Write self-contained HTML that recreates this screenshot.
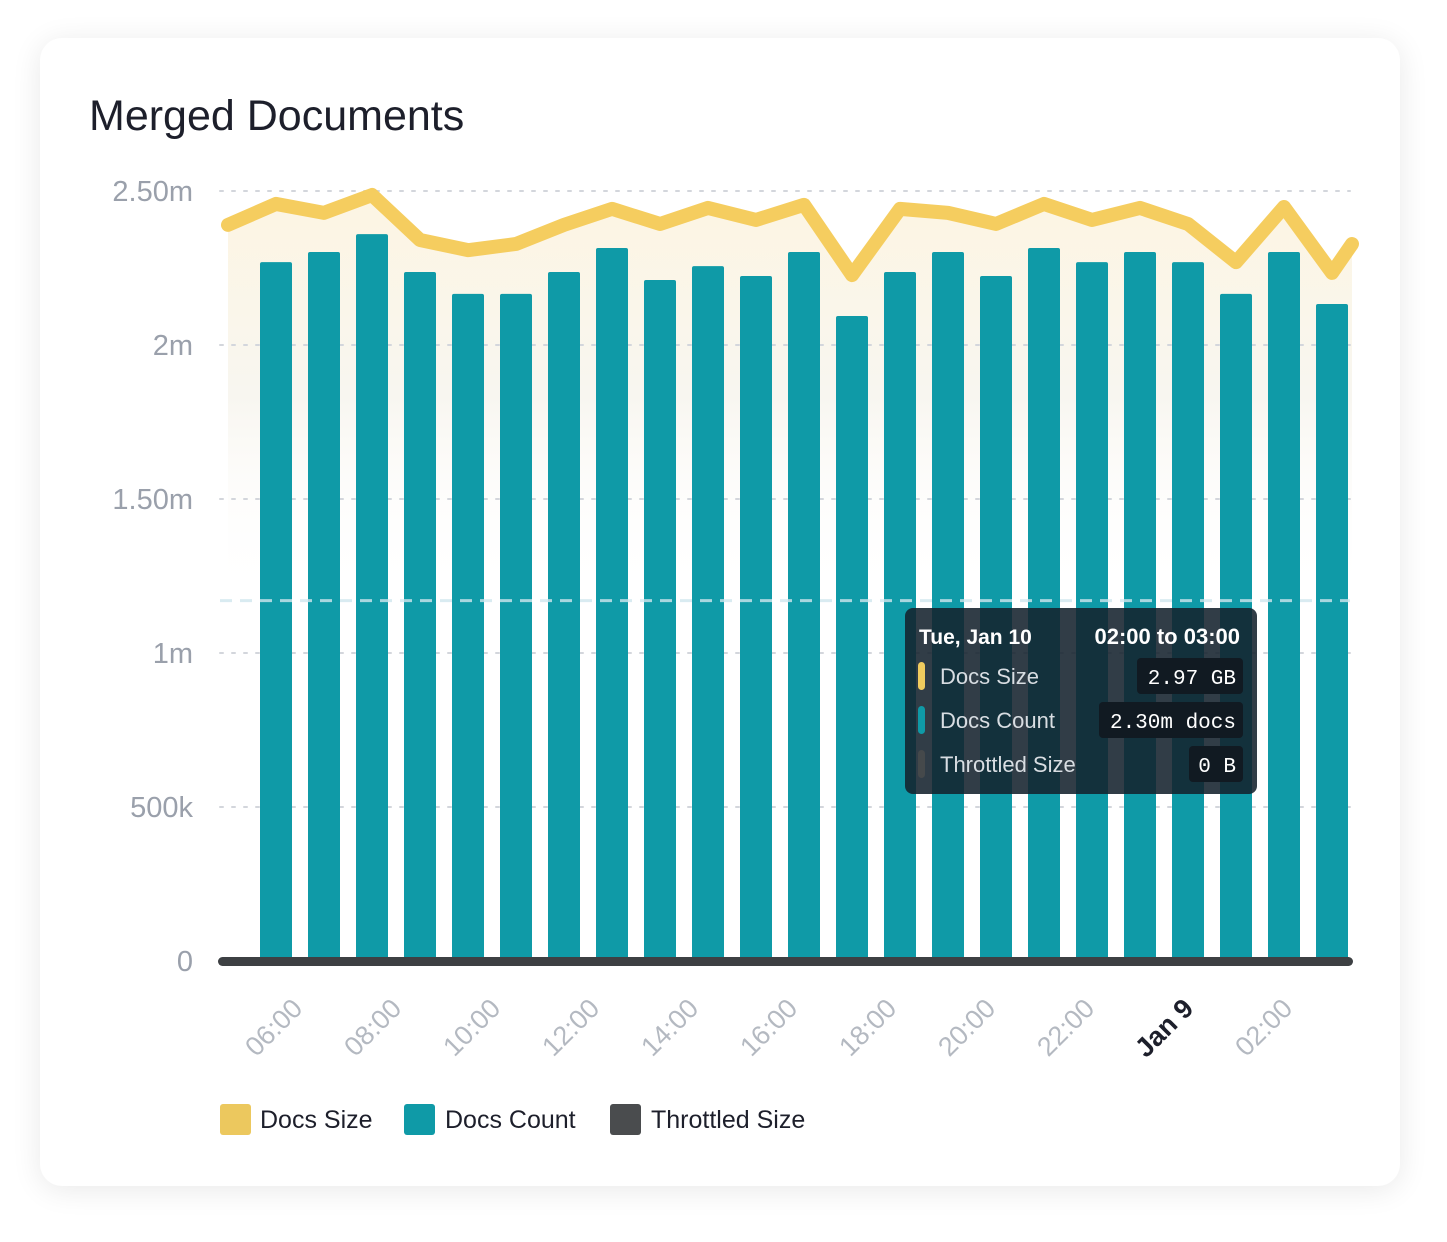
<!DOCTYPE html>
<html><head><meta charset="utf-8"><style>
body{margin:0;background:#fff;width:1447px;height:1242px;overflow:hidden;font-family:"Liberation Sans",sans-serif}
.card{position:absolute;left:40px;top:38px;width:1360px;height:1148px;background:#fff;border-radius:22px;box-shadow:0 4px 30px rgba(0,0,0,0.09)}
</style></head><body>
<div class="card"></div>
<svg width="1447" height="1242" style="position:absolute;left:0;top:0">
<defs>
<linearGradient id="fillg" gradientUnits="userSpaceOnUse" x1="0" y1="190" x2="0" y2="600">
<stop offset="0" stop-color="#fdf5e2"/><stop offset="0.5" stop-color="#f8f6f0"/><stop offset="1" stop-color="#ffffff" stop-opacity="0"/>
</linearGradient>
<clipPath id="plotclip"><rect x="220" y="150" width="1140" height="820"/></clipPath>
</defs>
<text x="89" y="130" font-size="43" fill="#1d1f2b">Merged Documents</text>
<g id="area" clip-path="url(#plotclip)"></g>
<g id="grid"></g>
<g id="bars"></g>
<g id="thresh"></g>
<g id="line" clip-path="url(#plotclip)"></g>
<rect x="218" y="957" width="1135" height="9" rx="4.5" fill="#3d4043"/>
<g id="xlabels"></g>
<g>
<rect x="905" y="608" width="352" height="186" rx="8" fill="#14222d" fill-opacity="0.88"/>
<text x="919" y="644" font-size="21" font-weight="bold" fill="#fff">Tue, Jan 10</text>
<text x="1240" y="644" font-size="22" font-weight="bold" fill="#fff" text-anchor="end">02:00 to 03:00</text>
<rect x="918" y="662" width="7" height="28" rx="3.5" fill="#f0cc5e"/>
<text x="940" y="684" font-size="22" fill="#d8dde2">Docs Size</text>
<rect x="1137" y="658" width="106" height="36" rx="4" fill="#111a22"/>
<text x="1236" y="684" font-size="21" fill="#fff" text-anchor="end" font-family="Liberation Mono,monospace">2.97 GB</text>
<rect x="918" y="706" width="7" height="28" rx="3.5" fill="#0f9aa7"/>
<text x="940" y="728" font-size="22" fill="#d8dde2">Docs Count</text>
<rect x="1099" y="702" width="144" height="36" rx="4" fill="#111a22"/>
<text x="1236" y="728" font-size="21" fill="#fff" text-anchor="end" font-family="Liberation Mono,monospace">2.30m docs</text>
<rect x="918" y="750" width="7" height="28" rx="3.5" fill="#45494b"/>
<text x="940" y="772" font-size="22" fill="#d8dde2">Throttled Size</text>
<rect x="1189" y="746" width="54" height="36" rx="4" fill="#111a22"/>
<text x="1236" y="772" font-size="21" fill="#fff" text-anchor="end" font-family="Liberation Mono,monospace">0 B</text>
</g>
<g>
<g><rect x="220" y="1104" width="31" height="31" rx="3" fill="#ecc85e"/><text x="260" y="1128" font-size="25" fill="#1d1f2b">Docs Size</text></g>
<g><rect x="404" y="1104" width="31" height="31" rx="3" fill="#0f9aa7"/><text x="445" y="1128" font-size="25" fill="#1d1f2b">Docs Count</text></g>
<g><rect x="610" y="1104" width="31" height="31" rx="3" fill="#4a4c4e"/><text x="651" y="1128" font-size="25" fill="#1d1f2b">Throttled Size</text></g>
</g>
</svg>
<script>
const yTicks=[0,0.5,1,1.5,2,2.5];
const yTickLabels=["0","500k","1m","1.50m","2m","2.50m"];
const docsCount=[2.269,2.302,2.360,2.237,2.166,2.166,2.237,2.315,2.211,2.256,2.224,2.302,2.094,2.237,2.302,2.224,2.315,2.269,2.302,2.269,2.166,2.302,2.133];
const docsSize=[2.390,2.458,2.429,2.487,2.341,2.308,2.328,2.390,2.442,2.393,2.445,2.406,2.455,2.227,2.442,2.429,2.393,2.458,2.406,2.445,2.393,2.269,2.448,2.234,2.328];
const xLabels=["06:00","08:00","10:00","12:00","14:00","16:00","18:00","20:00","22:00","Jan 9","02:00"];
const xLabelIdx=[0,2,4,6,8,10,12,14,16,18,20];
const thresholdValue=1.17;
const NS="http://www.w3.org/2000/svg";
const y=v=>961-v*308;
const x=i=>276+i*48;
const tx=i=>276+i*49.5;
const lx=i=>Math.min(Math.max(x(i),226),1352);
function mk(t,a,p){const e=document.createElementNS(NS,t);for(const k in a)e.setAttribute(k,a[k]);p.appendChild(e);return e;}
const grid=document.getElementById('grid');
yTicks.forEach((t,i)=>{
 if(t>0){const l=mk('line',{x1:220,x2:1350,y1:y(t),y2:y(t),stroke:'#d3d6dc','stroke-width':2,'stroke-dasharray':'3 9','stroke-linecap':'round'},grid);
 
 }
 const tt=mk('text',{x:193,y:y(t)+10,'font-size':29,fill:'#9aa0ab','text-anchor':'end'},grid);tt.textContent=yTickLabels[i];
 
 
});
const th=mk('line',{x1:220,x2:1350,y1:y(thresholdValue),y2:y(thresholdValue),stroke:'#cfe6ee','stroke-width':3,'stroke-dasharray':'12 8','stroke-opacity':0.8},document.getElementById('thresh'));


const bars=document.getElementById('bars');
docsCount.forEach((v,i)=>{const r=mk('rect',{x:x(i)-16,y:y(v),width:32,height:y(0)-y(v),rx:2,fill:'#0f9aa7'},bars);
 
 });
const pts=docsSize.map((v,i)=>[lx(i-1),y(v)]);
const ptsStr=pts.map(p=>p.join(',')).join(' ');
const area=mk('polygon',{points:ptsStr+` ${pts[pts.length-1][0]},${y(0)} ${pts[0][0]},${y(0)}`,fill:'url(#fillg)'},document.getElementById('area'));


const pl=mk('polyline',{points:ptsStr,fill:'none',stroke:'#f5cd5f','stroke-width':14,'stroke-linejoin':'round','stroke-linecap':'round'},document.getElementById('line'));


const xl=document.getElementById('xlabels');
xLabels.forEach((s,k)=>{const cx=tx(xLabelIdx[k])+28,cy=1010;
 const t=mk('text',{x:cx,y:cy,'font-size':27,'text-anchor':'end',fill:s==='Jan 9'?'#1d1f2b':'#b4b9c1','font-weight':s==='Jan 9'?'bold':'normal',transform:`rotate(-45 ${cx} ${cy})`},xl);
 t.textContent=s;
 
 });
</script>
</body></html>
